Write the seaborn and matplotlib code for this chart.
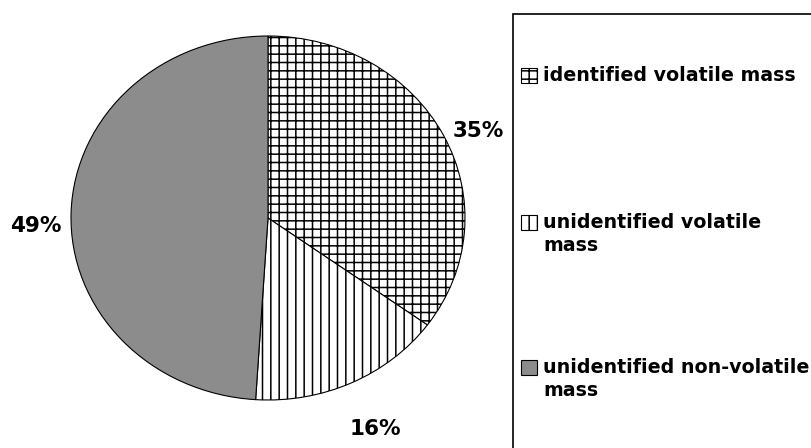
import matplotlib
matplotlib.use("Agg")
import numpy as np
import matplotlib.pyplot as plt
import matplotlib.patches as mpatches
import matplotlib.transforms as mtrans
import seaborn as sns

sns.set_style("white")
plt.rcParams['font.family'] = ['DejaVu Sans']
plt.rcParams['hatch.linewidth'] = 1.1

labels = ["identified volatile mass",
          "unidentified volatile\nmass",
          "unidentified non-volatile\nmass"]
shares = [35, 16, 49]
pct_labels = ["35%", "16%", "49%"]
hatches = ["++", "||", ""]
fills = ["white", "white", "#8c8c8c"]

# layout tweaks for the percent labels (distance from centre, pixel nudge)
label_dist = [1.05, 1.28, 1.05]
label_nudge = [(0, 0), (0, 0), (0, -14)]
# legend rows: top of first text line, pixels from figure top
legend_rows = [66, 213, 358]

fig = plt.figure(figsize=(8.12, 4.48), dpi=100)
ax = fig.add_axes([71 / 812, 48 / 448, 394 / 812, 364 / 448])

wedges, texts = ax.pie(shares, labels=pct_labels, startangle=90, counterclock=False,
                       colors=fills, labeldistance=1.1,
                       wedgeprops=dict(edgecolor="black", linewidth=0.8),
                       textprops=dict(fontsize=15.5, fontweight="bold", color="black"))
for w, h in zip(wedges, hatches):
    w.set_hatch(h)

# push each percent label out along its wedge's middle angle
for w, t, d, (nx, ny) in zip(wedges, texts, label_dist, label_nudge):
    ang = np.deg2rad((w.theta1 + w.theta2) / 2)
    t.set_position((d * np.cos(ang), d * np.sin(ang)))
    t.set_transform(ax.transData + mtrans.ScaledTranslation(nx / 100, ny / 100, fig.dpi_scale_trans))
texts[1].set_ha("center")

ax.set_aspect("auto")
ax.set_xlim(-1, 1)
ax.set_ylim(-1, 1)

# legend box running off the right and bottom edges
fig.patches.append(mpatches.Rectangle((513 / 812, -0.05), 0.5, (448 - 14) / 448 + 0.05,
                                      transform=fig.transFigure, fill=False,
                                      edgecolor="black", linewidth=1.2))

# legend entries, swatch lined up with the first text line
for lab, f, h, top in zip(labels, fills, hatches, legend_rows):
    fig.patches.append(mpatches.Rectangle((521 / 812, 1 - (top + 17) / 448), 16 / 812, 15 / 448,
                                          transform=fig.transFigure, facecolor=f,
                                          edgecolor="black", hatch=h, linewidth=0.8))
    fig.text(543 / 812, 1 - top / 448, lab, ha="left", va="top", fontsize=13.7,
             fontweight="bold", color="black", linespacing=1.25)

fig.savefig("out.png", dpi=100)
